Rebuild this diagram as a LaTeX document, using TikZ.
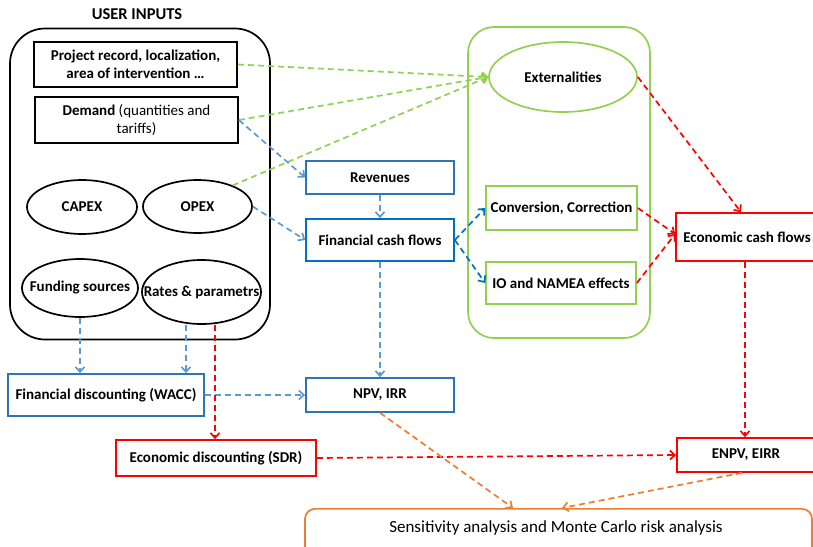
\documentclass[tikz,border=0pt]{standalone}
\usepackage{fontspec}
\setmainfont{Carlito}
\usetikzlibrary{arrows.meta,shapes.geometric}
\definecolor{cblue}{HTML}{2E75B6}
\definecolor{lblue}{HTML}{5B9BD5}
\definecolor{dblue}{HTML}{0070C0}
\definecolor{cgreen}{HTML}{92D050}
\definecolor{cred}{HTML}{FF0000}
\definecolor{corange}{HTML}{ED7D31}
\begin{document}
\begin{tikzpicture}[x=1pt,y=-1pt,
  font=\fontsize{15}{18}\selectfont\bfseries,
  boxnode/.style={draw, line width=1.7pt, rectangle, inner sep=0pt, align=center},
  ell/.style={draw, ellipse, line width=1.7pt, inner sep=0pt, align=center},
  conn/.style={dash pattern=on 6pt off 4pt, line width=1.7pt, -{Straight Barb[length=5pt,width=9pt]}},
]
\useasboundingbox (0,0) rectangle (813,546);

% containers
\node[draw, line width=1.7pt, rounded corners=35pt, minimum width=260, minimum height=311, inner sep=0pt] (ui) at (140,184) {};
\node (uititle) at (137,14) {\fontsize{16.5}{20}\selectfont USER INPUTS};
\node[draw=cgreen, line width=1.7pt, rounded corners=26pt, minimum width=182, minimum height=311, inner sep=0pt] (gr) at (559,182.5) {};

% user inputs
\node[boxnode, minimum width=203, minimum height=45] (proj) at (135.5,64.5) {Project record, localization,\\area of intervention \ldots};
\node[boxnode, minimum width=203, minimum height=46] (dem) at (136.5,120) {Demand {\mdseries(quantities and}\\{\mdseries tariffs)}};
\node[ell, minimum width=110, minimum height=54] (capex) at (82,207) {CAPEX};
\node[ell, minimum width=109, minimum height=53] (opex) at (197.5,206.5) {OPEX};
\node[ell, minimum width=116, minimum height=58, label={center:Funding sources}] (fund) at (80,288) {};
\node[ell, minimum width=119, minimum height=64, label={center:Rates \& parametrs}] (rates) at (201.5,292) {};

% middle
\node[boxnode, draw=cblue, minimum width=148, minimum height=33] (rev) at (380,177.5) {Revenues};
\node[boxnode, draw=dblue, minimum width=148, minimum height=42] (fcf) at (380,240) {Financial cash flows};
\node[ell, draw=cgreen, minimum width=148, minimum height=70] (ext) at (563,77) {Externalities};
\node[boxnode, draw=cgreen, minimum width=151, minimum height=44] (conv) at (561.5,208) {Conversion, Correction};
\node[boxnode, draw=cgreen, minimum width=150, minimum height=42] (io) at (561,283) {IO and NAMEA effects};
\node[boxnode, draw=cred, minimum width=142, minimum height=48] (ecf) at (747,237) {Economic cash flows};

% lower
\node[boxnode, draw=cblue, minimum width=196, minimum height=42] (fd) at (106,395) {Financial discounting (WACC)};
\node[boxnode, draw=cblue, minimum width=148, minimum height=34] (npv) at (380,395) {NPV, IRR};
\node[boxnode, draw=cred, minimum width=200, minimum height=36] (ed) at (216,458) {Economic discounting (SDR)};
\node[boxnode, draw=cred, minimum width=138, minimum height=34] (enpv) at (746,455) {ENPV, EIRR};
\node[draw=corange, line width=1.7pt, rounded corners=10pt, minimum width=507, minimum height=50, inner sep=0pt, anchor=north] (sa) at (558.5,508) {};
\node[font=\fontsize{17}{20}\selectfont\mdseries] (satext) at (556,528) {Sensitivity analysis and Monte Carlo risk analysis};

% green connectors
\draw[conn, cgreen] (proj.east) -- (ext.west);
\draw[conn, cgreen] (dem.east) -- (ext.west);
\draw[conn, cgreen] (opex.31) -- (ext.west);

% blue connectors
\draw[conn, lblue] (dem.east) -- (rev.west);
\draw[conn, lblue] (opex.east) -- (fcf.west);
\draw[conn, lblue] (rev.south) -- (fcf.north);
\draw[conn, dblue] (fcf.east) -- (conv.west);
\draw[conn, dblue] (fcf.east) -- (io.west);
\draw[conn, lblue] (fcf.south) -- (npv.north);
\draw[conn, lblue] (fund.south) -- (fund.south |- fd.north);
\draw[conn, lblue] ([xshift=-15.5pt]rates.south) -- ([xshift=-15.5pt]rates.south |- fd.north);
\draw[conn, lblue] (fd.east) -- (npv.west);

% red connectors
\draw[conn, cred] ([xshift=13.5pt]rates.south) -- ([xshift=13.5pt]rates.south |- ed.north);
\draw[conn, cred] (ed.east) -- (enpv.west);
\draw[conn, cred] (ext.east) -- ([xshift=-6pt]ecf.north);
\draw[conn, cred] (conv.east) -- ([yshift=3pt]ecf.west);
\draw[conn, cred] (io.east) -- ([yshift=3pt]ecf.west);
\draw[conn, cred] ([xshift=-2pt]ecf.south) -- ([xshift=-2pt]ecf.south |- enpv.north);

% orange connectors
\draw[conn, corange] (npv.south) -- ([xshift=-45.5pt]sa.north);
\draw[conn, corange] ([xshift=-4pt]enpv.south) -- ([xshift=3.5pt]sa.north);
\end{tikzpicture}
\end{document}
